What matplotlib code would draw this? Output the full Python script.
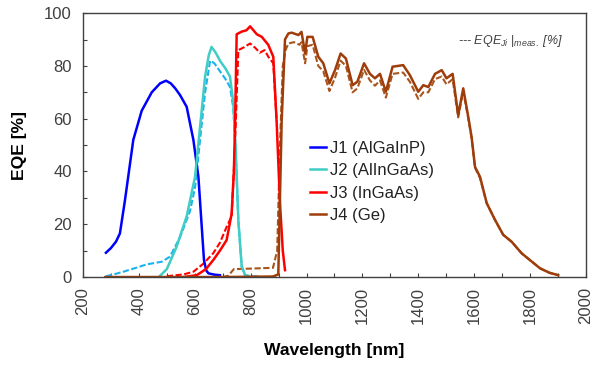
import matplotlib
matplotlib.use('Agg')
import matplotlib.pyplot as plt
from matplotlib.ticker import MultipleLocator

plt.rcParams['font.family'] = ['Liberation Sans', 'DejaVu Sans']
plt.rcParams['mathtext.fontset'] = 'custom'
plt.rcParams['mathtext.it'] = 'Liberation Sans:italic'
plt.rcParams['mathtext.rm'] = 'Liberation Sans'

# J1 (AlGaInP)
j1_wl = [282, 300, 318, 332, 350, 380, 410, 446, 476, 497, 514, 530, 547, 571,
         595, 613, 625, 633, 641, 649, 670, 690]
j1_eqe = [9.2, 11, 13.4, 16.5, 29, 52, 63, 70, 73.4, 74.4, 73.4, 71.5, 69, 64.5,
          52, 38, 19, 6.4, 2.5, 1.4, 0.9, 0.7]

# J2 (AlInGaAs)
j2_wl = [476, 500, 535, 571, 601, 619, 637, 650, 660, 675, 690, 710, 726, 738,
         747, 756, 768, 780, 792]
j2_eqe = [0.5, 3, 11.5, 23, 38, 57, 76, 84, 87.2, 85, 82, 79, 76, 66,
          47, 21.6, 4, 0.8, 0.2]
j2_meas_wl = [282, 310, 344, 390, 428, 482, 511, 547, 583, 601, 619, 637, 655,
              670, 690, 710, 726, 738, 747, 756, 768, 780, 800, 830]
j2_meas = [0.3, 1, 2, 3.5, 4.8, 5.8, 7.7, 15, 25, 34, 52, 70, 82,
           81, 78, 75, 72, 64, 46, 21, 4, 0.8, 0.3, 0.2]

# J3 (InGaAs)
j3_wl = [560, 607, 640, 666, 690, 714, 732, 740, 744, 750, 768, 785, 798, 810,
         822, 840, 863, 881, 893, 905, 915, 923]
j3_eqe = [0, 0.7, 3, 6.4, 10, 14, 24, 40, 57, 92, 93, 93.5, 95, 93.5,
          92, 91, 88, 83.5, 59, 28, 10, 2.6]
j3_meas_wl = [500, 560, 595, 630, 666, 690, 714, 732, 744, 756, 775, 798, 815,
              833, 850, 863, 881, 893]
j3_meas = [0.3, 1, 2, 5, 9, 13, 19, 23, 50, 86, 87, 88.5, 87,
           85, 86, 83.5, 81, 59]

# J4 (Ge)
j4_wl = [280, 500, 700, 880, 899, 911, 923, 935, 947, 971, 982, 995, 1003, 1022,
         1042, 1060, 1082, 1102, 1122, 1141, 1165, 1182, 1206, 1227, 1245, 1263,
         1284, 1308, 1346, 1370, 1400, 1418, 1436, 1460, 1484, 1501, 1523, 1543,
         1561, 1579, 1591, 1603, 1621, 1645, 1675, 1704, 1734, 1770, 1800, 1836,
         1870, 1901]
j4_eqe = [0, 0, 0, 0.2, 1, 59, 90, 92.3, 92.6, 91.7, 92.9, 84.7, 91, 91,
          83.5, 81, 73.4, 78.4, 84.7, 82.8, 72.7, 74, 81, 77, 75.3, 77,
          70.2, 79.7, 80.3, 76.5, 70.2, 72.7, 72, 77, 78.4, 75.3, 77, 61.4,
          71.5, 60.7, 53, 41.8, 38, 28, 21.6, 16, 13.4, 9, 6.4, 3.3,
          1.6, 0.7]
j4_meas_wl = [700, 720, 740, 800, 880, 895, 905, 915, 925, 935, 955, 975, 982,
              995, 1003, 1022, 1042, 1060, 1082, 1102, 1122, 1141, 1165, 1182,
              1206, 1227, 1245, 1263, 1284, 1308, 1346, 1370, 1400, 1418, 1436,
              1460, 1484, 1501, 1523, 1543, 1561, 1579, 1591, 1603, 1621, 1645,
              1675, 1704, 1734, 1770, 1800, 1836, 1870, 1901]
j4_meas = [0, 0.5, 3, 3.2, 3.5, 10, 50, 80, 86, 88.5, 89, 88, 89,
           81, 87.5, 88, 80, 78, 70.5, 75.5, 82, 80, 70, 71.5,
           78.5, 74.5, 72.5, 74.5, 68, 77, 77.5, 74, 67.5, 70, 70,
           75, 76, 73, 75, 60.5, 70.5, 60, 52.5, 41.5, 37.5, 28,
           21.6, 16, 13.4, 9, 6.4, 3.3, 1.6, 0.7]

c_j1 = '#0000FF'
c_j2 = '#3FCDC6'
c_j2m = '#1AB2F0'
c_j3 = '#FF0000'
c_j4 = '#9E3D0A'
c_j4m = '#A8561E'
gray = '#404040'

fig = plt.figure(figsize=(5.93, 3.65), dpi=100)
ax = fig.add_axes([0.140, 0.241, 0.848, 0.723])

lw = 1.8
dash = (0, (3, 1.2))
ax.plot(j2_meas_wl, j2_meas, color=c_j2m, lw=1.5, ls=dash)
ax.plot(j3_meas_wl, j3_meas, color=c_j3, lw=1.5, ls=dash)
ax.plot(j4_meas_wl, j4_meas, color=c_j4m, lw=1.5, ls=dash)
ax.plot(j1_wl, j1_eqe, color=c_j1, lw=lw, label='J1 (AlGaInP)')
ax.plot(j2_wl, j2_eqe, color=c_j2, lw=lw, label='J2 (AlInGaAs)')
ax.plot(j3_wl, j3_eqe, color=c_j3, lw=lw, label='J3 (InGaAs)')
ax.plot(j4_wl, j4_eqe, color=c_j4, lw=lw, label='J4 (Ge)')

ax.set_xlim(200, 2000)
ax.set_ylim(0, 100)
ax.xaxis.set_major_locator(MultipleLocator(200))
ax.xaxis.set_minor_locator(MultipleLocator(100))
ax.yaxis.set_major_locator(MultipleLocator(20))
ax.yaxis.set_minor_locator(MultipleLocator(10))
ax.tick_params(which='both', direction='in', length=3, width=0.8, color=gray,
               labelcolor=gray, labelsize=12)
ax.tick_params(axis='x', which='major', labelrotation=90, pad=7)
ax.tick_params(axis='y', which='major', pad=8)
for s in ax.spines.values():
    s.set_color(gray)
    s.set_linewidth(1.0)

ax.set_xlabel('Wavelength [nm]', fontsize=12.6, fontweight='bold', labelpad=14)
ax.set_ylabel('EQE [%]', fontsize=12.6, fontweight='bold', labelpad=12)

ax.legend(loc='center left', bbox_to_anchor=(0.451, 0.36), frameon=False,
          fontsize=12, handlelength=1.0, handletextpad=0.2, labelspacing=0.45,
          borderpad=0, borderaxespad=0, labelcolor='#222222')

ax.text(0.745, 0.895, r'--- $EQE_{Ji}$ $|_{meas.}$ [%]', transform=ax.transAxes,
        fontsize=9, style='italic', color=gray, ha='left', va='center')

fig.savefig('out.png', dpi=100)
